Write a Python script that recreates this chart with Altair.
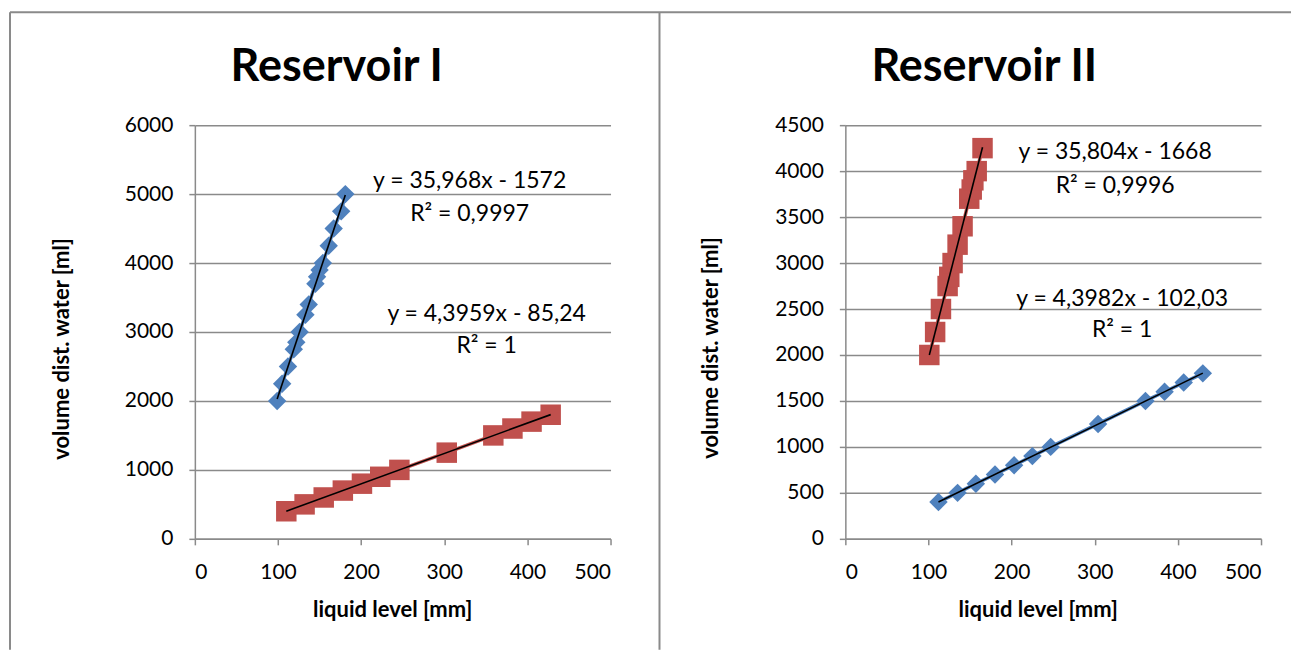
import altair as alt
import pandas as pd

# ---------------- data ----------------
# Reservoir I
r1_blue_x = [99, 105, 112, 119, 122, 126, 133, 137, 145, 147, 150, 154, 161, 167, 176, 181]
r1_blue_y = [2000, 2250, 2500, 2750, 2850, 3000, 3250, 3400, 3700, 3800, 3900, 4000, 4250, 4500, 4750, 5000]
r1_red_x = [110, 132, 155, 178, 201, 223, 246, 303, 359, 382, 405, 428]
r1_red_y = [400, 500, 600, 700, 800, 900, 1000, 1250, 1500, 1600, 1700, 1800]

# Reservoir II
r2_red_x = [101, 108, 115, 123, 125, 129, 135, 141, 149, 152, 154, 158, 165]
r2_red_y = [2000, 2250, 2500, 2750, 2850, 3000, 3200, 3400, 3700, 3800, 3900, 4000, 4250]
r2_blue_x = [112, 135, 157, 180, 203, 225, 247, 304, 361, 384, 407, 430]
r2_blue_y = [400, 500, 600, 700, 800, 900, 1000, 1250, 1500, 1600, 1700, 1800]

x_ticks = [0, 100, 200, 300, 400, 500]
r1_y_ticks = [0, 1000, 2000, 3000, 4000, 5000, 6000]
r2_y_ticks = [0, 500, 1000, 1500, 2000, 2500, 3000, 3500, 4000, 4500]

r1_eq_top = ["y = 35,968x - 1572", "R² = 0,9997"]
r1_eq_bot = ["y = 4,3959x - 85,24", "R² = 1"]
r2_eq_top = ["y = 35,804x - 1668", "R² = 0,9996"]
r2_eq_bot = ["y = 4,3982x - 102,03", "R² = 1"]

BLUE = "#4F81BD"
RED = "#C0504D"
GRAY = "#8a8a8a"
FONT = "Lato"
W, H = 416, 414
TICK_FS = 21
EQ_FS = 23
AX_FS = 22


def xenc():
    return alt.X("x:Q", scale=alt.Scale(domain=[0, 500], nice=False, zero=False),
                 axis=alt.Axis(values=x_ticks, grid=False, title=None, format="d",
                               labelFontSize=TICK_FS, labelFont=FONT, labelColor="black",
                               labelPadding=17, tickSize=6, tickColor=GRAY, tickWidth=1.5,
                               domainColor=GRAY, domainWidth=1.5))


def yenc(ymax, ticks):
    return alt.Y("y:Q", scale=alt.Scale(domain=[0, ymax], nice=False, zero=True),
                 axis=alt.Axis(values=ticks, grid=True, gridColor=GRAY, gridWidth=1.5,
                               title=None, format="d",
                               labelFontSize=TICK_FS, labelFont=FONT, labelColor="black",
                               labelPadding=16, tickSize=6, tickColor=GRAY, tickWidth=1.5,
                               domainColor=GRAY, domainWidth=1.5))


one = pd.DataFrame({"k": [0]})


def text(t, px, py, size=EQ_FS, bold=False, angle=0):
    return alt.Chart(one).mark_text(
        text=t, font=FONT, fontSize=size, fontWeight="bold" if bold else "normal",
        color="black", align="center", baseline="alphabetic", angle=angle
    ).encode(x=alt.value(px), y=alt.value(py))


def rule(x1, y1, x2=None, y2=None):
    enc = dict(x=alt.value(x1), y=alt.value(y1))
    if x2 is not None:
        enc["x2"] = alt.value(x2)
    if y2 is not None:
        enc["y2"] = alt.value(y2)
    return alt.Chart(one).mark_rule(color=GRAY, strokeWidth=2).encode(**enc)


def series(xs, ys, color, shape, size, ymax, ticks):
    df = pd.DataFrame({"x": xs, "y": ys})
    base = alt.Chart(df)
    line = base.mark_line(color=color, strokeWidth=3.5).encode(x=xenc(), y=yenc(ymax, ticks))
    pts = base.mark_point(shape=shape, filled=True, size=size, color=color, opacity=1).encode(
        x=xenc(), y=yenc(ymax, ticks))
    trend = base.transform_regression("x", "y").mark_line(color="black", strokeWidth=1.6).encode(
        x=xenc(), y=yenc(ymax, ticks))
    return [line, pts, trend]


# ---------------- Reservoir I ----------------
left_layers = [
    rule(-185, -113, x2=1097),          # top frame
    rule(-185, -113, y2=525),           # left frame
    rule(465, -113, y2=525),            # divider
]
left_layers += series(r1_blue_x, r1_blue_y, BLUE, "diamond", 340, 6000, r1_y_ticks)
left_layers += series(r1_red_x, r1_red_y, RED, "square", 420, 6000, r1_y_ticks)
left_layers += [
    text("Reservoir I", 142, -44, size=45, bold=True),
    text(r1_eq_top[0], 275, 63), text(r1_eq_top[1], 275, 96),
    text(r1_eq_bot[0], 292, 196), text(r1_eq_bot[1], 292, 228),
    text("liquid level [mm]", 198, 492, size=AX_FS, bold=True),
    text("volume dist. water [ml]", -126, 224, size=AX_FS, bold=True, angle=270),
]
left = alt.layer(*left_layers).properties(width=W, height=H)

# ---------------- Reservoir II ----------------
right_layers = []
right_layers += series(r2_red_x, r2_red_y, RED, "square", 420, 4500, r2_y_ticks)
right_layers += series(r2_blue_x, r2_blue_y, BLUE, "diamond", 340, 4500, r2_y_ticks)
right_layers += [
    text("Reservoir II", 139, -44, size=45, bold=True),
    text(r2_eq_top[0], 270, 34), text(r2_eq_top[1], 270, 68),
    text(r2_eq_bot[0], 277, 181), text(r2_eq_bot[1], 277, 212),
    text("liquid level [mm]", 193, 492, size=AX_FS, bold=True),
    text("volume dist. water [ml]", -127, 223, size=AX_FS, bold=True, angle=270),
]
right = alt.layer(*right_layers).properties(width=W, height=H)

chart = alt.hconcat(left, right, spacing=235, bounds="flush").properties(
    padding={"left": 1, "top": 3, "right": 0, "bottom": 0}
).configure_view(stroke=None)

chart.save("out.html", embed_options={"renderer": "svg", "actions": False})
